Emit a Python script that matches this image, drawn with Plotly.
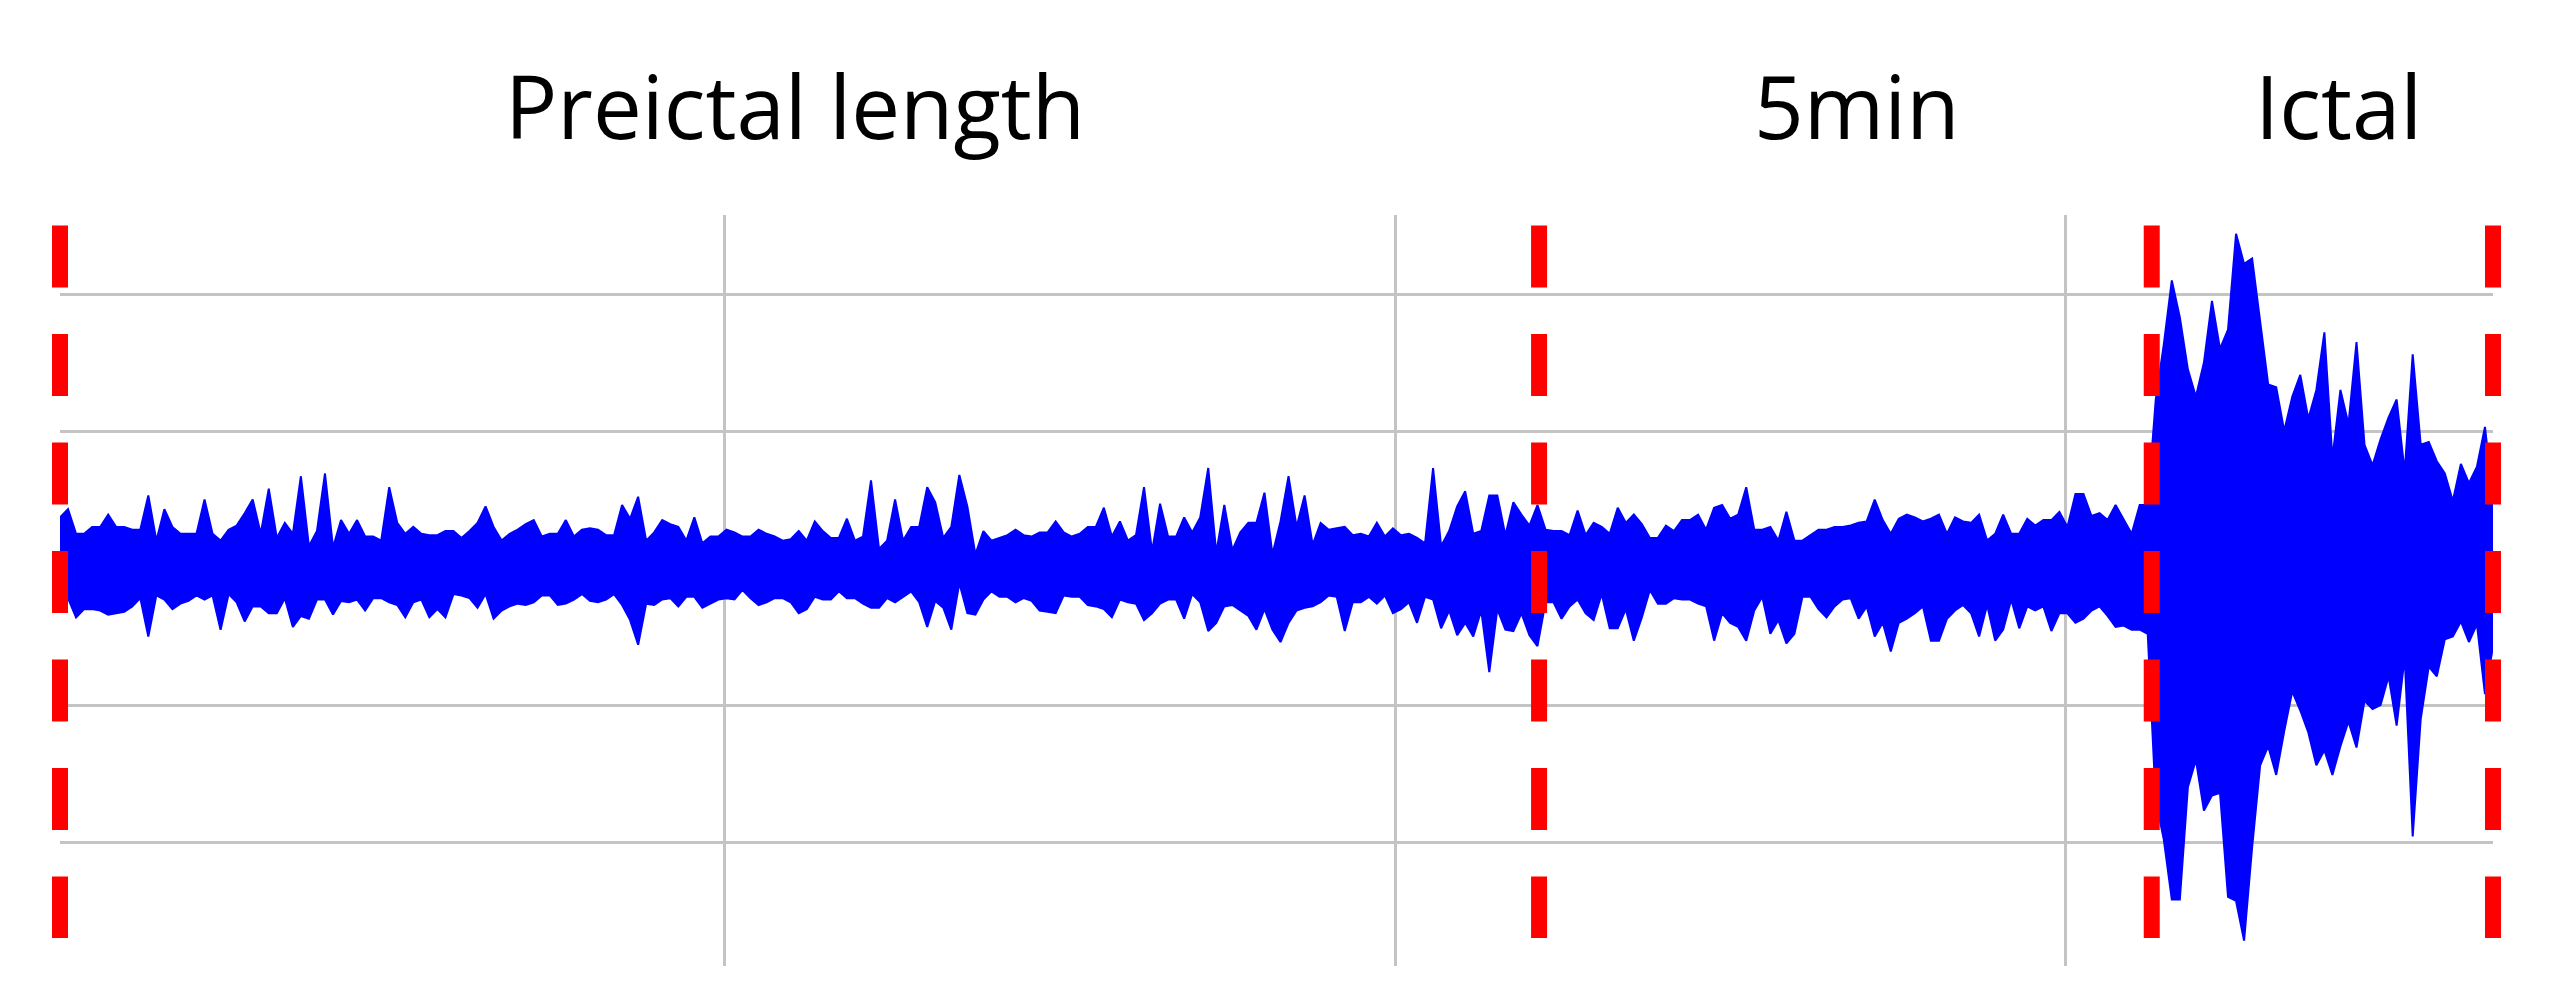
import numpy as np
import plotly.graph_objects as go

# upper / lower edge of the EEG trace, one value per sample
pre_upper = [
    0.37, 0.43, 0.25, 0.25, 0.30, 0.30, 0.39, 0.30, 0.30, 0.28,
    0.28, 0.53, 0.20, 0.43, 0.30, 0.25, 0.25, 0.25, 0.50, 0.25,
    0.20, 0.28, 0.31, 0.40, 0.50, 0.25, 0.58, 0.22, 0.33, 0.25,
    0.67, 0.16, 0.27, 0.69, 0.15, 0.35, 0.25, 0.35, 0.23, 0.23,
    0.20, 0.59, 0.33, 0.25, 0.30, 0.25, 0.24, 0.24, 0.27, 0.27,
    0.22, 0.27, 0.33, 0.45, 0.30, 0.20, 0.25, 0.28, 0.32, 0.35,
    0.23, 0.25, 0.25, 0.35, 0.23, 0.28, 0.29, 0.28, 0.24, 0.24,
    0.46, 0.36, 0.52, 0.20, 0.26, 0.35, 0.32, 0.30, 0.20, 0.37,
    0.18, 0.23, 0.23, 0.28, 0.26, 0.23, 0.23, 0.28, 0.25, 0.23,
    0.20, 0.21, 0.27, 0.20, 0.34, 0.27, 0.22, 0.22, 0.36, 0.20,
    0.23, 0.64, 0.14, 0.20, 0.50, 0.20, 0.30, 0.30, 0.59, 0.48,
    0.22, 0.30, 0.68, 0.45, 0.10, 0.27, 0.20, 0.22, 0.24, 0.28,
    0.24, 0.23, 0.26, 0.26, 0.34, 0.26, 0.23, 0.25, 0.30, 0.30,
    0.44, 0.23, 0.34, 0.20, 0.24, 0.59, 0.12, 0.47, 0.23, 0.23,
    0.37, 0.26, 0.37, 0.73, 0.11, 0.46, 0.13, 0.26, 0.33, 0.33,
    0.55, 0.10, 0.34, 0.67, 0.30, 0.53, 0.17, 0.33, 0.28, 0.29,
    0.30, 0.24, 0.25, 0.23, 0.33, 0.23, 0.29, 0.24, 0.25, 0.22,
    0.18, 0.73, 0.16, 0.27, 0.45, 0.56, 0.25, 0.27, 0.53, 0.53,
    0.24, 0.48, 0.39, 0.31, 0.46,
]
pre_lower = [
    -0.27, -0.22, -0.36, -0.30, -0.30, -0.31, -0.34, -0.33, -0.32, -0.28,
    -0.22, -0.50, -0.20, -0.23, -0.30, -0.26, -0.24, -0.20, -0.23, -0.20,
    -0.45, -0.19, -0.25, -0.39, -0.28, -0.28, -0.33, -0.33, -0.22, -0.43,
    -0.35, -0.37, -0.23, -0.23, -0.34, -0.24, -0.25, -0.23, -0.31, -0.22,
    -0.22, -0.25, -0.27, -0.36, -0.25, -0.23, -0.36, -0.30, -0.36, -0.19,
    -0.20, -0.22, -0.29, -0.19, -0.37, -0.31, -0.28, -0.26, -0.27, -0.25,
    -0.20, -0.20, -0.27, -0.26, -0.23, -0.19, -0.24, -0.25, -0.23, -0.19,
    -0.27, -0.38, -0.56, -0.26, -0.27, -0.23, -0.22, -0.28, -0.21, -0.21,
    -0.29, -0.26, -0.23, -0.22, -0.23, -0.16, -0.22, -0.27, -0.25, -0.22,
    -0.22, -0.25, -0.33, -0.30, -0.21, -0.23, -0.23, -0.17, -0.22, -0.22,
    -0.26, -0.29, -0.29, -0.22, -0.25, -0.21, -0.17, -0.25, -0.43, -0.24,
    -0.29, -0.45, -0.11, -0.33, -0.34, -0.23, -0.17, -0.21, -0.21, -0.25,
    -0.22, -0.24, -0.31, -0.32, -0.33, -0.20, -0.21, -0.21, -0.27, -0.28,
    -0.30, -0.36, -0.23, -0.25, -0.26, -0.38, -0.33, -0.26, -0.23, -0.23,
    -0.37, -0.19, -0.25, -0.46, -0.40, -0.28, -0.27, -0.31, -0.35, -0.45,
    -0.30, -0.45, -0.54, -0.40, -0.31, -0.29, -0.28, -0.25, -0.20, -0.21,
    -0.46, -0.25, -0.25, -0.21, -0.26, -0.20, -0.33, -0.30, -0.25, -0.40,
    -0.21, -0.23, -0.44, -0.31, -0.49, -0.40, -0.50, -0.31, -0.76, -0.30,
    -0.45, -0.46, -0.33, -0.49, -0.57,
]
mid_upper = [
    0.28, 0.27, 0.27, 0.24, 0.42, 0.24, 0.33, 0.30, 0.25, 0.44,
    0.33, 0.39, 0.32, 0.22, 0.22, 0.31, 0.27, 0.35, 0.35, 0.39,
    0.28, 0.44, 0.46, 0.36, 0.39, 0.59, 0.28, 0.28, 0.30, 0.20,
    0.41, 0.20, 0.20, 0.24, 0.28, 0.28, 0.30, 0.30, 0.31, 0.33,
    0.34, 0.50, 0.35, 0.25, 0.36, 0.39, 0.37, 0.34, 0.36, 0.39,
    0.25, 0.37, 0.34, 0.33, 0.39, 0.20, 0.25, 0.39, 0.25, 0.25,
    0.36, 0.31, 0.35, 0.35, 0.41, 0.30, 0.54, 0.54, 0.38, 0.40,
    0.35, 0.46, 0.35, 0.25, 0.46, 0.46,
]
mid_lower = [
    -0.25, -0.25, -0.37, -0.28, -0.23, -0.33, -0.38, -0.19, -0.44, -0.44,
    -0.30, -0.53, -0.36, -0.16, -0.26, -0.26, -0.22, -0.23, -0.23, -0.26,
    -0.28, -0.53, -0.33, -0.40, -0.43, -0.53, -0.31, -0.21, -0.48, -0.38,
    -0.55, -0.48, -0.21, -0.21, -0.30, -0.36, -0.28, -0.23, -0.22, -0.37,
    -0.28, -0.50, -0.40, -0.61, -0.40, -0.37, -0.33, -0.28, -0.53, -0.53,
    -0.37, -0.31, -0.27, -0.33, -0.50, -0.27, -0.53, -0.45, -0.23, -0.44,
    -0.28, -0.31, -0.28, -0.46, -0.33, -0.33, -0.40, -0.37, -0.31, -0.28,
    -0.35, -0.43, -0.42, -0.45, -0.45, -0.48,
]
ictal_upper = [
    1.23, 1.63, 2.10, 1.83, 1.45, 1.25, 1.50, 1.95, 1.60, 1.74,
    2.44, 2.22, 2.26, 1.79, 1.34, 1.32, 1.00, 1.25, 1.41, 1.09,
    1.30, 1.72, 0.80, 1.30, 1.05, 1.65, 0.90, 0.75, 0.94, 1.10,
    1.23, 0.70, 1.56, 0.90, 0.92, 0.78, 0.69, 0.49, 0.76, 0.62,
    0.74, 1.03, 0.50,
]
ictal_lower = [
    -1.70, -1.98, -2.42, -2.42, -1.60, -1.40, -1.77, -1.66, -1.64, -2.40,
    -2.43, -2.72, -2.04, -1.44, -1.30, -1.51, -1.19, -0.90, -1.04, -1.20,
    -1.44, -1.33, -1.51, -1.30, -1.12, -1.31, -0.97, -1.03, -1.00, -0.79,
    -1.15, -0.65, -1.96, -1.10, -0.72, -0.79, -0.52, -0.50, -0.39, -0.54,
    -0.41, -0.92, -0.57,
]

# segment borders (sample index), labels and grid positions
boundaries = [0, 184.2, 260.5, 303]
labels = ["Preictal length", "5min", "Ictal"]
label_x = [91.5, 223.8, 283.7]
grid_x = [82.7, 166.3, 249.7]

upper = pre_upper + mid_upper + ictal_upper
lower = pre_lower + mid_lower + ictal_lower
t = np.arange(len(upper))

x_range = [0, 303]
y_range = [-2.905, 2.577]

fig = go.Figure()
fig.add_trace(go.Scatter(
    x=t, y=lower, mode="lines", line=dict(color="#0000ff", width=2),
    hoverinfo="skip", showlegend=False,
))
fig.add_trace(go.Scatter(
    x=t, y=upper, mode="lines", line=dict(color="#0000ff", width=2),
    fill="tonexty", fillcolor="#0000ff", hoverinfo="skip", showlegend=False,
))

span = x_range[1] - x_range[0]
for b in boundaries:
    xp = (b - x_range[0]) / span
    fig.add_shape(
        type="line", xref="paper", yref="y", x0=xp, x1=xp, y0=2.5, y1=-2.7,
        line=dict(color="#ff0000", width=16, dash="62px,46.5px"), layer="above",
    )

for txt, lx in zip(labels, label_x):
    fig.add_annotation(
        x=lx, y=1.065, xref="x", yref="paper", text=txt, showarrow=False,
        xanchor="center", yanchor="bottom",
        font=dict(family="Open Sans", size=87, color="#000000"),
    )

fig.update_xaxes(
    range=x_range, tickvals=grid_x, showticklabels=False, showgrid=True,
    gridcolor="#c4c4c4", gridwidth=3, zeroline=False, showline=False, ticks="",
)
fig.update_yaxes(
    range=y_range, tick0=0, dtick=1, showticklabels=False, showgrid=True,
    gridcolor="#c4c4c4", gridwidth=3, zeroline=False, showline=False, ticks="",
)
# the page adds an 8px body margin, so the margins are shifted to compensate
fig.update_layout(
    width=2564, height=1007,
    margin=dict(l=52, r=79, t=207, b=49),
    plot_bgcolor="white", paper_bgcolor="white",
)

fig.write_html("out.html")
